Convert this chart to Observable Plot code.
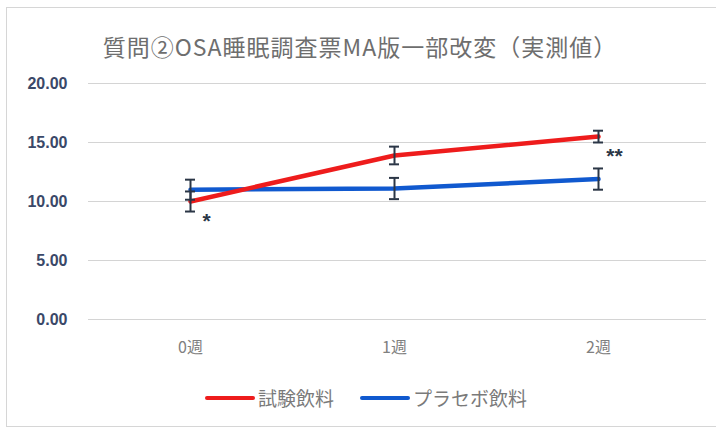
<!DOCTYPE html>
<html><head><meta charset="utf-8">
<script src="https://cdn.jsdelivr.net/npm/d3@7"></script>
<script src="https://cdn.jsdelivr.net/npm/@observablehq/plot@0.6"></script>
<style>
body{margin:0;background:#fff;}
#wrap{position:relative;width:716px;height:430px;overflow:hidden;font-family:"Noto Sans CJK JP","Noto Sans",sans-serif;}
#border{position:absolute;left:6px;top:7px;width:720px;height:420px;border:1.5px solid #d6d6d6;box-sizing:border-box;}
#title{position:absolute;top:29px;left:0;width:720px;text-align:center;font-size:23px;color:#6e6e6e;letter-spacing:1px;}
#chart{position:absolute;top:70px;left:0;}
#legend{position:absolute;top:384px;left:205px;display:flex;align-items:center;font-size:19px;color:#7a7a7a;}
#legend .item{display:flex;align-items:center;margin-right:26px;}
#legend .sw{display:inline-block;width:50px;height:4px;margin-right:3px;border-radius:2px;}
</style></head>
<body><div id="wrap"><div id="border"></div><div id="title"></div><div id="chart"></div><div id="legend"></div></div>
<script>
const titleText = "質問②OSA睡眠調査票MA版一部改変（実測値）";
const weeks = ["0週", "1週", "2週"];
const seriesNames = ["試験飲料", "プラセボ飲料"];
const seriesColors = ["#ee1c1c", "#1059cf"];
const testValues = [10.0, 13.9, 15.5];
const testErr = [0.85, 0.75, 0.5];
const placeboValues = [11.0, 11.1, 11.9];
const placeboErr = [0.85, 0.9, 0.9];
const yTicks = [0, 5, 10, 15, 20];
const annoWeeks = ["0週", "2週"];
const annoValues = [10.0, 15.5];
const annoLabels = ["*", "**"];

document.getElementById("title").textContent = titleText;

const rows = [];
weeks.forEach((w, i) => {
  rows.push({week: w, series: seriesNames[1], value: placeboValues[i], err: placeboErr[i]});
});
weeks.forEach((w, i) => {
  rows.push({week: w, series: seriesNames[0], value: testValues[i], err: testErr[i]});
});
const annos = annoWeeks.map((w, i) => ({week: w, value: annoValues[i], label: annoLabels[i]}));

const capInset = 97;
const chart = Plot.plot({
  width: 716, height: 300,
  marginTop: 13, marginBottom: 51, marginLeft: 88, marginRight: 16,
  style: {fontFamily: "'Liberation Sans', 'Noto Sans CJK JP', sans-serif", background: "transparent"},
  x: {type: "band", domain: weeks, padding: 0, label: null},
  y: {domain: [0, 20], label: null},
  color: {domain: seriesNames, range: seriesColors},
  marks: [
    Plot.ruleY(yTicks, {stroke: "#d4d4d4", strokeWidth: 1.2, insetRight: -6}),
    Plot.axisY(yTicks, {tickSize: 0, tickPadding: 21, label: null, tickFormat: d => d.toFixed(2), fontSize: 16, fontWeight: "bold", fill: "#3a4868"}),
    Plot.axisX({tickSize: 0, tickPadding: 22, label: null, fontSize: 16, fill: "#808080", fontFamily: "'Noto Sans CJK JP', sans-serif"}),
    Plot.line(rows, {x: "week", y: "value", z: "series", stroke: "series", strokeWidth: 4.5}),
    Plot.ruleX(rows, {x: "week", y1: d => d.value - d.err, y2: d => d.value + d.err, stroke: "#2b3646", strokeWidth: 2}),
    Plot.tickY(rows, {x: "week", y: d => d.value - d.err, stroke: "#2b3646", strokeWidth: 2, insetLeft: capInset, insetRight: capInset}),
    Plot.tickY(rows, {x: "week", y: d => d.value + d.err, stroke: "#2b3646", strokeWidth: 2, insetLeft: capInset, insetRight: capInset}),
    Plot.text(annos, {x: "week", y: "value", text: "label", dx: 16, dy: 20, fontSize: 21, fontWeight: "bold", fill: "#2b3646"})
  ]
});
document.getElementById("chart").appendChild(chart);

const legend = document.getElementById("legend");
seriesNames.forEach((name, i) => {
  const item = document.createElement("div");
  item.className = "item";
  const sw = document.createElement("span");
  sw.className = "sw";
  sw.style.background = seriesColors[i];
  const lab = document.createElement("span");
  lab.textContent = name;
  item.appendChild(sw); item.appendChild(lab);
  legend.appendChild(item);
});
</script></body></html>
